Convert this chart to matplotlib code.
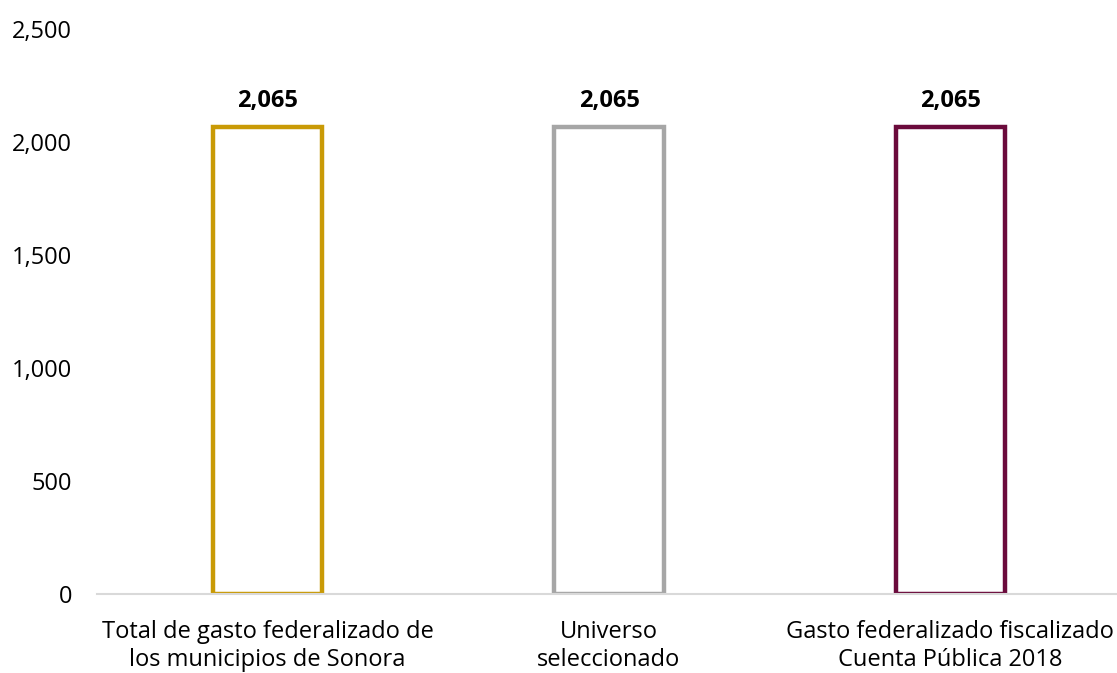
import matplotlib
matplotlib.use("Agg")
import matplotlib.pyplot as plt
from matplotlib.ticker import FuncFormatter

categories = ["Total de gasto federalizado de\nlos municipios de Sonora",
              "Universo\nseleccionado",
              "Gasto federalizado fiscalizado\nCuenta Pública 2018"]
values = [2065, 2065, 2065]
colors = ["#C99A06", "#A6A6A6", "#6B0B3C"]
yticks = [0, 500, 1000, 1500, 2000, 2500]

plt.rcParams['font.family'] = ['Open Sans', 'DejaVu Sans']

fig = plt.figure(figsize=(11.17, 6.73), dpi=100)
ax = fig.add_axes([97/1117, 79/673, 1024/1117, 565/673])

x = range(len(values))
ax.bar(x, values, width=0.32, facecolor="white", edgecolor=colors, linewidth=3.2, zorder=3)
for xi, v in zip(x, values):
    ax.text(xi, v + 65, f"{v:,}", ha="center", va="bottom", fontsize=17, fontweight="bold", color="black")

ax.set_xlim(-0.5, 2.5)
ax.set_ylim(0, 2500)
ax.set_yticks(yticks)
ax.yaxis.set_major_formatter(FuncFormatter(lambda v, p: f"{int(v):,}"))
ax.set_xticks(list(x))
ax.set_xticklabels(categories, linespacing=1.22)
ax.tick_params(axis="both", length=0, labelsize=17, colors="black")
ax.tick_params(axis="y", pad=18)
ax.tick_params(axis="x", pad=18.5)
for s in ["top", "right", "left"]:
    ax.spines[s].set_visible(False)
ax.spines["bottom"].set_color("#D9D9D9")
ax.spines["bottom"].set_linewidth(1.5)
ax.spines["bottom"].set_zorder(4)

fig.savefig("out.png", dpi=100)
